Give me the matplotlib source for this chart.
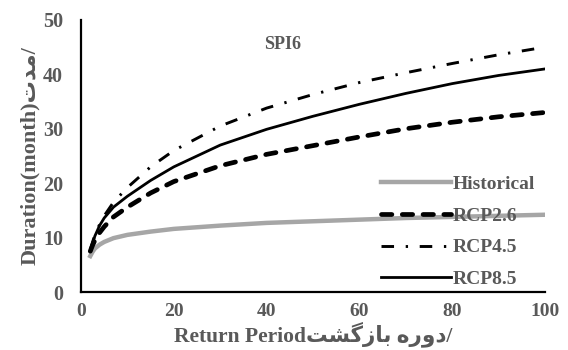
import matplotlib
matplotlib.use("Agg")
import matplotlib.pyplot as plt

# return period (years) and drought duration (months)
period = [2, 2.5, 3, 4, 5, 7, 10, 15, 20, 30, 40, 50, 60, 70, 80, 90, 100]
historical = [6.6, 7.4, 8.0, 8.7, 9.2, 9.9, 10.5, 11.1, 11.6, 12.2, 12.7, 13.0, 13.3, 13.6, 13.8, 14.0, 14.2]
rcp26 = [7.5, 8.6, 9.5, 10.9, 12.0, 13.8, 15.6, 18.2, 20.3, 23.2, 25.3, 26.9, 28.5, 30.0, 31.2, 32.2, 33.0]
rcp45 = [7.8, 9.2, 10.5, 12.4, 14.0, 16.5, 19.2, 23.0, 26.0, 30.5, 33.8, 36.3, 38.5, 40.3, 42.0, 43.6, 45.0]
rcp85 = [7.5, 9.0, 10.3, 12.2, 13.6, 15.6, 17.6, 20.5, 23.0, 27.0, 29.9, 32.3, 34.5, 36.5, 38.3, 39.8, 41.0]

title = "SPI6"
# persian parts given already shaped / in visual order (matplotlib does no bidi)
ylab = "Duration(month)" + "\uFE95\uFEAA\uFEE3" + "/"
xlab = ("Return Period" + "\uFE96\uFEB8\uFB94\uFEAF\uFE8E\uFE91 "
        "\uFEE9\uFEAD\uFEED\uFEA9" + "/")

grey_txt = "#595959"
fams = ["Liberation Serif", "DejaVu Sans"]

fig = plt.figure(figsize=(5.68, 3.5), dpi=100)
ax = fig.add_axes([0.1426, 0.1657, 0.817, 0.7773])

ax.plot(period, historical, color="#a6a6a6", lw=3.2, label="Historical")
ax.plot(period, rcp26, color="black", lw=3.4, ls=(0, (2.2, 2.2)), label="RCP2.6",
        dash_capstyle="round")
ax.plot(period, rcp45, color="black", lw=2.1, ls=(0, (4.3, 4, 0.8, 4)), label="RCP4.5")
ax.plot(period, rcp85, color="black", lw=2.0, label="RCP8.5")

ax.set_xlim(0, 100)
ax.set_ylim(0, 50)
ax.set_xticks([0, 20, 40, 60, 80, 100])
ax.set_yticks([0, 10, 20, 30, 40, 50])
ax.tick_params(axis="x", length=0, pad=8, labelsize=14, labelcolor=grey_txt)
ax.tick_params(axis="y", length=0, pad=13, labelsize=14.5, labelcolor=grey_txt)
for lb in ax.get_xticklabels() + ax.get_yticklabels():
    lb.set_family("Liberation Serif")
    lb.set_weight("bold")
for s in ["top", "right"]:
    ax.spines[s].set_visible(False)
for s in ["left", "bottom"]:
    ax.spines[s].set_linewidth(1.6)
    ax.spines[s].set_color("black")

ax.text(0.435, 0.91, title, transform=ax.transAxes, ha="center", va="center",
        family="Liberation Serif", weight="bold", fontsize=13, color=grey_txt)

ax.set_xlabel(xlab, family=fams, weight="bold", fontsize=15.5, color=grey_txt, labelpad=1)
ax.set_ylabel(ylab, family=fams, weight="bold", fontsize=16, color=grey_txt, labelpad=2)

leg = ax.legend(loc="lower right", bbox_to_anchor=(1.017, -0.05), frameon=False,
                handlelength=3.6, handletextpad=0.1, labelspacing=0.72,
                prop={"family": "Liberation Serif", "weight": "bold", "size": 14})
for t in leg.get_texts():
    t.set_color(grey_txt)

fig.savefig("out.png", dpi=100)
